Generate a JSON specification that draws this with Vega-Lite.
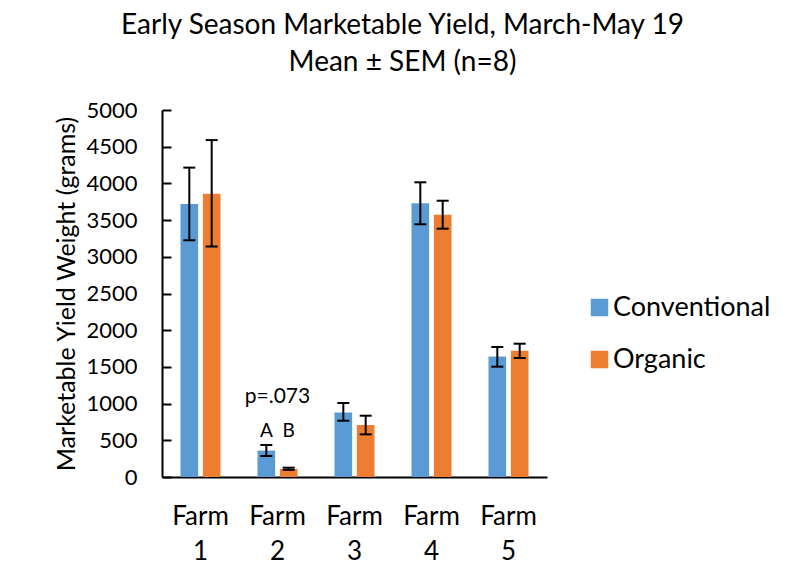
{
  "$schema": "https://vega.github.io/schema/vega-lite/v6.json",
  "width": 385,
  "height": 367,
  "autosize": {"type": "none"},
  "padding": {"left": 162, "top": 110, "right": 242, "bottom": 105},
  "background": "white",
  "title": {
    "text": ["Early Season Marketable Yield, March-May 19", "Mean ± SEM (n=8)"],
    "font": "Lato",
    "fontSize": 28,
    "fontWeight": "normal",
    "color": "black",
    "anchor": "middle",
    "frame": "group",
    "dx": 48,
    "offset": 22,
    "lineHeight": 37
  },
  "config": {
    "view": {"stroke": null},
    "font": "Lato",
    "axisY": {
      "titleFont": "Lato",
      "titleFontSize": 25,
      "titleFontWeight": "normal",
      "titleColor": "black",
      "titlePadding": 6,
      "labelOverlap": false,
      "grid": false,
      "domainColor": "black",
      "domainWidth": 2,
      "ticks": true,
      "tickColor": "black",
      "tickWidth": 2,
      "tickSize": -9,
      "labelPadding": 34,
      "labelFont": "Lato",
      "labelFontSize": 22,
      "labelColor": "black"
    }
  },
  "datasets": {
    "bars": [
      {"farm": "Farm 1", "type": "Conventional", "mean": 3720, "lo": 3225, "hi": 4215},
      {"farm": "Farm 1", "type": "Organic", "mean": 3860, "lo": 3140, "hi": 4590},
      {"farm": "Farm 2", "type": "Conventional", "mean": 360, "lo": 286, "hi": 436},
      {"farm": "Farm 2", "type": "Organic", "mean": 112, "lo": 97, "hi": 127},
      {"farm": "Farm 3", "type": "Conventional", "mean": 880, "lo": 767, "hi": 1008},
      {"farm": "Farm 3", "type": "Organic", "mean": 708, "lo": 581, "hi": 835},
      {"farm": "Farm 4", "type": "Conventional", "mean": 3729, "lo": 3443, "hi": 4015},
      {"farm": "Farm 4", "type": "Organic", "mean": 3574, "lo": 3383, "hi": 3764},
      {"farm": "Farm 5", "type": "Conventional", "mean": 1640, "lo": 1503, "hi": 1771},
      {"farm": "Farm 5", "type": "Organic", "mean": 1721, "lo": 1621, "hi": 1816}
    ],
    "letters": [
      {"farm": "Farm 2", "type": "Conventional", "pos": 541, "label": "A"},
      {"farm": "Farm 2", "type": "Organic", "pos": 541, "label": "B"}
    ],
    "pval": [
      {"farm": "Farm 2", "pos": 1004, "label": "p=.073"}
    ]
  },
  "encoding": {
    "x": {
      "field": "farm",
      "type": "nominal",
      "sort": null,
      "scale": {"paddingInner": 0.48, "paddingOuter": 0.24},
      "axis": {
        "title": null,
        "labelExpr": "split(datum.label, ' ')",
        "labelAngle": 0,
        "ticks": false,
        "domainColor": "black",
        "domainWidth": 2,
        "labelFont": "Lato",
        "labelFontSize": 26,
        "labelColor": "black",
        "labelLineHeight": 35,
        "labelPadding": 47,
        "labelBaseline": "alphabetic"
      }
    }
  },
  "layer": [
    {
      "data": {"name": "bars"},
      "mark": {"type": "bar"},
      "encoding": {
        "xOffset": {"field": "type", "scale": {"paddingInner": 0.21}},
        "y": {
          "field": "mean",
          "type": "quantitative",
          "scale": {"domain": [0, 5000]},
          "axis": {"title": "Marketable Yield Weight (grams)", "values": [0, 500, 1000, 1500, 2000, 2500, 3000, 3500, 4000, 4500, 5000], "format": "d", "labelOverlap": false, "tickSize": -9}
        },
        "color": {
          "field": "type",
          "type": "nominal",
          "scale": {"domain": ["Conventional", "Organic"], "range": ["#5B9BD5", "#ED7D31"]},
          "legend": {
            "title": null,
            "orient": "none",
            "legendX": 424,
            "legendY": 184,
            "labelFont": "Lato",
            "labelFontSize": 27,
            "labelColor": "black",
            "symbolType": "square",
            "symbolSize": 306,
            "symbolStrokeWidth": 0,
            "rowPadding": 24,
            "labelOffset": 0
          }
        }
      }
    },
    {
      "data": {"name": "bars"},
      "mark": {"type": "rule", "color": "black", "strokeWidth": 2},
      "encoding": {
        "xOffset": {"field": "type"},
        "y": {"field": "lo", "type": "quantitative", "axis": {"title": "Marketable Yield Weight (grams)", "values": [0, 500, 1000, 1500, 2000, 2500, 3000, 3500, 4000, 4500, 5000], "format": "d", "labelOverlap": false, "tickSize": -9}},
        "y2": {"field": "hi"}
      }
    },
    {
      "data": {"name": "bars"},
      "mark": {"type": "tick", "color": "black", "thickness": 2, "size": 12, "opacity": 1},
      "encoding": {
        "xOffset": {"field": "type"},
        "y": {"field": "lo", "type": "quantitative", "axis": {"title": "Marketable Yield Weight (grams)", "values": [0, 500, 1000, 1500, 2000, 2500, 3000, 3500, 4000, 4500, 5000], "format": "d", "labelOverlap": false, "tickSize": -9}}
      }
    },
    {
      "data": {"name": "bars"},
      "mark": {"type": "tick", "color": "black", "thickness": 2, "size": 12, "opacity": 1},
      "encoding": {
        "xOffset": {"field": "type"},
        "y": {"field": "hi", "type": "quantitative", "axis": {"title": "Marketable Yield Weight (grams)", "values": [0, 500, 1000, 1500, 2000, 2500, 3000, 3500, 4000, 4500, 5000], "format": "d", "labelOverlap": false, "tickSize": -9}}
      }
    },
    {
      "data": {"name": "letters"},
      "mark": {"type": "text", "font": "Lato", "fontSize": 19, "color": "black", "baseline": "alphabetic"},
      "encoding": {
        "xOffset": {"field": "type"},
        "y": {"field": "pos", "type": "quantitative", "axis": {"title": "Marketable Yield Weight (grams)", "values": [0, 500, 1000, 1500, 2000, 2500, 3000, 3500, 4000, 4500, 5000], "format": "d", "labelOverlap": false, "tickSize": -9}},
        "text": {"field": "label"}
      }
    },
    {
      "data": {"name": "pval"},
      "mark": {"type": "text", "font": "Lato", "fontSize": 21, "color": "black", "baseline": "alphabetic"},
      "encoding": {
        "y": {"field": "pos", "type": "quantitative", "axis": {"title": "Marketable Yield Weight (grams)", "values": [0, 500, 1000, 1500, 2000, 2500, 3000, 3500, 4000, 4500, 5000], "format": "d", "labelOverlap": false, "tickSize": -9}},
        "text": {"field": "label"}
      }
    }
  ]
}
